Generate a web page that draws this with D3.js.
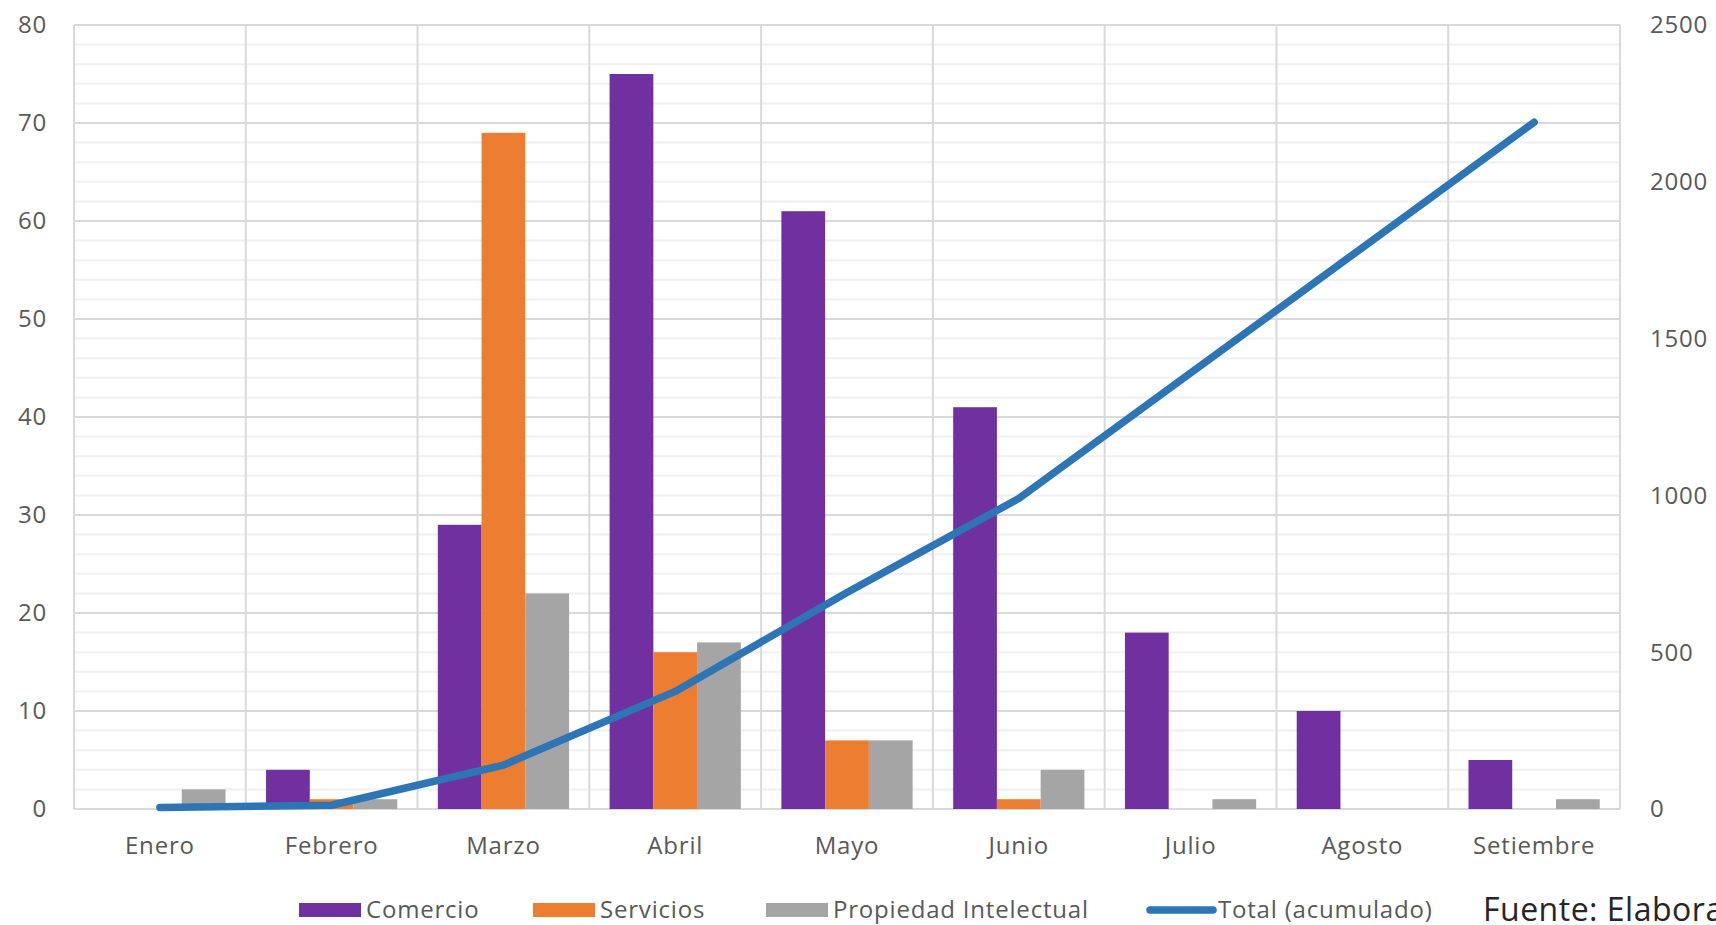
<!DOCTYPE html>
<html>
<head>
<meta charset="utf-8">
<script src="https://cdn.jsdelivr.net/npm/d3@7"></script>
<style>
  body { margin: 0; background: #fff; }
  svg text { font-family: "Open Sans", "Noto Sans", sans-serif; fill: #595959; letter-spacing: 0.8px; }
</style>
</head>
<body>
<div id="chart"></div>
<script>
// data
const months = ["Enero", "Febrero", "Marzo", "Abril", "Mayo", "Junio", "Julio", "Agosto", "Setiembre"];
const comercio = [0, 4, 29, 75, 61, 41, 18, 10, 5];
const servicios = [0, 1, 69, 16, 7, 1, 0, 0, 0];
const propiedad = [2, 1, 22, 17, 7, 4, 1, 0, 1];
const totalAcum = [5, 12, 140, 375, 690, 990, 1390, 1790, 2190];

const seriesNames = ["Comercio", "Servicios", "Propiedad Intelectual"];
const seriesColors = ["#7030A0", "#ED7D31", "#A5A5A5"];
const lineName = "Total (acumulado)";
const lineColor = "#2E75B6";
const leftTicks = [0, 10, 20, 30, 40, 50, 60, 70, 80];
const rightTicks = [0, 500, 1000, 1500, 2000, 2500];

const width = 1716, height = 925;
const margin = {top: 25, right: 96, bottom: 116, left: 74};
const innerW = width - margin.left - margin.right;
const innerH = height - margin.top - margin.bottom;

const svg = d3.select("#chart").append("svg")
    .attr("width", width)
    .attr("height", height);

const g = svg.append("g")
    .attr("transform", `translate(${margin.left},${margin.top})`);

const x0 = d3.scaleBand().domain(months).range([0, innerW]).padding(0);
const bw = x0.bandwidth();
const x1 = d3.scaleBand().domain(seriesNames).range([bw * 0.118, bw * 0.882]).padding(0);
const y = d3.scaleLinear().domain([0, 80]).range([innerH, 0]);
const y2 = d3.scaleLinear().domain([0, 2500]).range([innerH, 0]);

// minor gridlines every 2
g.append("g").selectAll("line")
    .data(d3.range(0, 81, 2).filter(v => v % 10 !== 0))
    .enter().append("line")
    .attr("x1", 0).attr("x2", innerW)
    .attr("y1", d => y(d)).attr("y2", d => y(d))
    .style("stroke", "#f0f0f0")
    .style("stroke-width", 2);

// major gridlines
g.append("g").selectAll("line")
    .data(leftTicks)
    .enter().append("line")
    .attr("x1", 0).attr("x2", innerW)
    .attr("y1", d => y(d)).attr("y2", d => y(d))
    .style("stroke", "#d9d9d9")
    .style("stroke-width", 2);

// vertical lines at category edges
g.append("g").selectAll("line")
    .data(d3.range(months.length + 1))
    .enter().append("line")
    .attr("x1", i => i * bw).attr("x2", i => i * bw)
    .attr("y1", 0).attr("y2", innerH)
    .style("stroke", "#d9d9d9")
    .style("stroke-width", 2);

// bars
const seriesData = [comercio, servicios, propiedad];
seriesData.forEach((vals, si) => {
    g.append("g").selectAll("rect")
        .data(vals)
        .enter().append("rect")
        .attr("x", (d, i) => x0(months[i]) + x1(seriesNames[si]))
        .attr("y", d => y(d))
        .attr("width", x1.bandwidth())
        .attr("height", d => innerH - y(d))
        .style("fill", seriesColors[si]);
});

// cumulative line on right axis
const line = d3.line()
    .x((d, i) => x0(months[i]) + bw / 2)
    .y(d => y2(d));

g.append("path")
    .datum(totalAcum)
    .attr("d", line)
    .style("fill", "none")
    .style("stroke", lineColor)
    .style("stroke-width", 7.5)
    .style("stroke-linecap", "round")
    .style("stroke-linejoin", "round");

// left axis labels
g.append("g").selectAll("text")
    .data(leftTicks)
    .enter().append("text")
    .attr("x", -27)
    .attr("y", d => y(d))
    .attr("dy", "0.35em")
    .attr("text-anchor", "end")
    .style("font-size", "24px")
    .text(d => d);

// right axis labels
g.append("g").selectAll("text")
    .data(rightTicks)
    .enter().append("text")
    .attr("x", innerW + 30)
    .attr("y", d => y2(d))
    .attr("dy", "0.35em")
    .attr("text-anchor", "start")
    .style("font-size", "24px")
    .text(d => d);

// category labels
g.append("g").selectAll("text")
    .data(months)
    .enter().append("text")
    .attr("x", d => x0(d) + bw / 2)
    .attr("y", innerH + 37)
    .attr("dy", "0.35em")
    .attr("text-anchor", "middle")
    .style("font-size", "24px")
    .text(d => d);

// legend
const legendY = 910;
const legendX = [299, 533, 766];
seriesNames.forEach((name, i) => {
    svg.append("rect")
        .attr("x", legendX[i]).attr("y", legendY - 7)
        .attr("width", 62).attr("height", 14)
        .style("fill", seriesColors[i]);
    svg.append("text")
        .attr("x", legendX[i] + 67).attr("y", legendY)
        .attr("dy", "0.35em")
        .style("font-size", "24px")
        .text(name);
});
svg.append("line")
    .attr("x1", 1150).attr("x2", 1213)
    .attr("y1", legendY).attr("y2", legendY)
    .style("stroke", lineColor)
    .style("stroke-width", 7.5)
    .style("stroke-linecap", "round");
svg.append("text")
    .attr("x", 1218).attr("y", legendY)
    .attr("dy", "0.35em")
    .style("font-size", "24px")
    .text(lineName);

// source note, cut by the right edge as in the original
svg.append("text")
    .attr("x", 1483).attr("y", legendY)
    .attr("dy", "0.35em")
    .style("font-size", "32px")
    .style("letter-spacing", "0.5px")
    .style("fill", "#262626")
    .text("Fuente: Elaboración propia");
</script>
</body>
</html>
